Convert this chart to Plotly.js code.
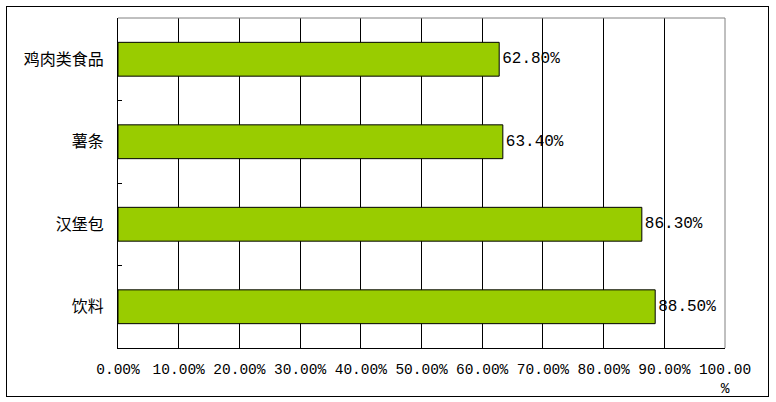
<!DOCTYPE html>
<html>
<head>
<meta charset="utf-8">
<script src="https://cdn.plot.ly/plotly-3.0.1.min.js"></script>
<style>
  html, body { margin: 0; padding: 0; background: #fff; }
  #wrap { position: relative; width: 776px; height: 402px; }
  #chart { position: absolute; left: 0; top: 0; width: 776px; height: 402px; }
  #frame { position: absolute; left: 6px; top: 6px; width: 763px; height: 391px;
           box-sizing: border-box; border: 1px solid #000; pointer-events: none; }
</style>
</head>
<body>
<div id="wrap">
  <div id="chart"></div>
  <div id="frame"></div>
</div>
<script>
const categories = ["鸡肉类食品", "薯条", "汉堡包", "饮料"];
const values = [62.8, 63.4, 86.3, 88.5];
const tickValues = [0, 10, 20, 30, 40, 50, 60, 70, 80, 90, 100];
const tickLabels = ["0.00%", "10.00%", "20.00%", "30.00%", "40.00%", "50.00%",
                    "60.00%", "70.00%", "80.00%", "90.00%", "100.00<br>%"];
const valueLabels = values.map(v => v.toFixed(2) + "%");

const numFont = "Liberation Mono, DejaVu Sans Mono, monospace";
const cjkFont = "Noto Sans CJK SC, sans-serif";

const trace = {
  type: "bar",
  orientation: "h",
  y: categories,
  x: values,
  text: valueLabels,
  textposition: "outside",
  cliponaxis: false,
  textfont: { family: numFont, size: 16, color: "#000" },
  marker: { color: "#99CC00", line: { color: "#000", width: 1 } },
  hoverinfo: "none"
};

const layout = {
  width: 776,
  height: 402,
  margin: { l: 118, r: 51, t: 18, b: 54, pad: 0 },
  paper_bgcolor: "#fff",
  plot_bgcolor: "#fff",
  showlegend: false,
  bargap: 0.59,
  xaxis: {
    range: [0, 100],
    tickmode: "array",
    tickvals: tickValues,
    ticktext: tickLabels,
    showgrid: true,
    gridcolor: "#000",
    gridwidth: 1,
    zeroline: false,
    showline: true,
    linecolor: "#000",
    linewidth: 1,
    ticks: "",
    ticklabelstandoff: 8,
    tickfont: { family: numFont, size: 14.5, color: "#000" },
    fixedrange: true
  },
  yaxis: {
    type: "category",
    autorange: "reversed",
    showgrid: false,
    zeroline: false,
    showline: true,
    linecolor: "#000",
    linewidth: 1,
    ticks: "inside",
    ticklen: 4,
    tickcolor: "#000",
    tickson: "boundaries",
    ticklabelstandoff: 10,
    tickfont: { family: cjkFont, size: 16, color: "#000" },
    fixedrange: true
  },
  shapes: [
    { type: "line", xref: "paper", yref: "paper", x0: 0, x1: 1, y0: 1, y1: 1,
      line: { color: "#808080", width: 1 }, layer: "above" },
    { type: "line", xref: "paper", yref: "paper", x0: 1, x1: 1, y0: 0, y1: 1,
      line: { color: "#808080", width: 1 }, layer: "above" }
  ]
};

Plotly.newPlot("chart", [trace], layout, { displayModeBar: false, staticPlot: true });
</script>
</body>
</html>
